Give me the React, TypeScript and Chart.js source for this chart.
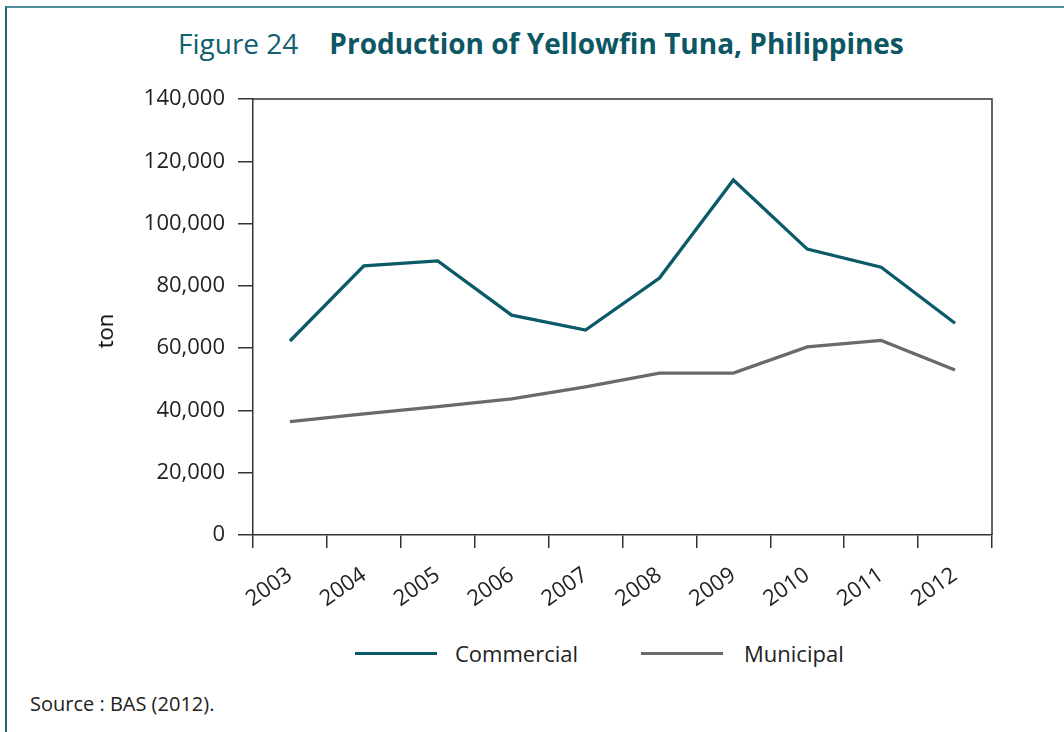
import React, { useEffect, useRef } from "react";
import { Chart, registerables } from "chart.js";

Chart.register(...registerables);

// ---- data ----
const years = ["2003", "2004", "2005", "2006", "2007", "2008", "2009", "2010", "2011", "2012"];
const commercial = [62300, 86400, 88000, 70600, 65800, 82500, 114000, 91800, 86000, 68000];
const municipal = [36400, 38900, 41200, 43700, 47600, 52000, 52000, 60400, 62500, 53000];
const yTicks = [0, 20000, 40000, 60000, 80000, 100000, 120000, 140000];
const seriesNames = ["Commercial", "Municipal"];
const seriesColors = ["#0b5a68", "#6a6a6a"];
const yAxisTitle = "ton";

const FONT = "'Open Sans', 'Noto Sans', sans-serif";
const AXIS = "#333333";

const framePlugin = {
  id: "frameTopRight",
  afterDraw(chart: any) {
    const { ctx, chartArea } = chart;
    const { left, top, right, bottom } = chartArea;
    ctx.save();
    ctx.strokeStyle = AXIS;
    ctx.lineWidth = 1.5;
    ctx.beginPath();
    ctx.moveTo(left, top);
    ctx.lineTo(right, top);
    ctx.lineTo(right, bottom);
    ctx.stroke();
    ctx.restore();
  },
};

export default function App() {
  const canvasRef = useRef<HTMLCanvasElement | null>(null);

  useEffect(() => {
    if (!canvasRef.current) return;
    const chart = new Chart(canvasRef.current, {
      type: "line",
      data: {
        labels: years,
        datasets: [
          {
            label: seriesNames[0],
            data: commercial,
            borderColor: seriesColors[0],
            backgroundColor: seriesColors[0],
            borderWidth: 3.3,
            pointRadius: 0,
            tension: 0,
          },
          {
            label: seriesNames[1],
            data: municipal,
            borderColor: seriesColors[1],
            backgroundColor: seriesColors[1],
            borderWidth: 3.3,
            pointRadius: 0,
            tension: 0,
          },
        ],
      },
      options: {
        animation: false,
        responsive: true,
        maintainAspectRatio: false,
        layout: { padding: { top: 99, left: 90, right: 72, bottom: 0 } },
        plugins: {
          legend: { display: false },
          tooltip: { enabled: false },
          title: { display: false },
        },
        scales: {
          x: {
            offset: true,
            grid: {
              offset: true,
              drawOnChartArea: false,
              tickLength: 13,
              color: AXIS,
              lineWidth: 1.5,
            },
            border: { color: AXIS, width: 1.5 },
            ticks: {
              autoSkip: false,
              minRotation: 35,
              maxRotation: 35,
              padding: 14,
              color: "#222",
              font: { family: FONT, size: 22 },
            },
            afterFit: (s: any) => {
              s.height = 80;
            },
          },
          y: {
            min: 0,
            max: 140000,
            afterBuildTicks: (s: any) => {
              s.ticks = yTicks.map((v) => ({ value: v }));
            },
            grid: {
              drawOnChartArea: false,
              tickLength: 15,
              color: AXIS,
              lineWidth: 1.5,
            },
            border: { color: AXIS, width: 1.5 },
            ticks: {
              padding: 13,
              color: "#222",
              font: { family: FONT, size: 22 },
              callback: (v: any) => Number(v).toLocaleString("en-US"),
            },
            afterFit: (s: any) => {
              s.width = 163;
            },
          },
        },
      },
      plugins: [framePlugin],
    });
    return () => chart.destroy();
  }, []);

  const legendItem = (i: number, gapAfter: number) => (
    <div key={i} style={{ display: "flex", alignItems: "center", marginRight: gapAfter }}>
      <div style={{ width: 82, height: 3, background: seriesColors[i] }} />
      <span style={{ marginLeft: i === 0 ? 18 : 21 }}>{seriesNames[i]}</span>
    </div>
  );

  return (
    <div
      style={{
        position: "absolute",
        left: 0,
        top: 0,
        width: 1064,
        height: 732,
        background: "#fff",
        overflow: "hidden",
        fontFamily: FONT,
      }}
    >
      <div
        style={{
          position: "absolute",
          left: 5,
          top: 6,
          width: 1064,
          height: 732,
          borderTop: "2px solid #4a8c97",
          borderLeft: "2px solid #1d6573",
          boxSizing: "border-box",
        }}
      />
      <div
        style={{
          position: "absolute",
          left: 178,
          top: 25,
          whiteSpace: "nowrap",
          fontSize: 28,
          lineHeight: "36px",
          color: "#11606e",
        }}
      >
        <span style={{ fontWeight: 400 }}>Figure 24</span>
        <span style={{ fontWeight: 700, marginLeft: 31, color: "#0d5664" }}>
          Production of Yellowfin Tuna, Philippines
        </span>
      </div>
      <div style={{ position: "absolute", left: 0, top: 0, width: 1064, height: 615 }}>
        <canvas ref={canvasRef} />
      </div>
      <div
        style={{
          position: "absolute",
          left: 104,
          top: 331,
          width: 0,
          height: 0,
        }}
      >
        <div
          style={{
            position: "absolute",
            left: 0,
            top: 0,
            transform: "translate(-50%, -50%) rotate(-90deg)",
            fontSize: 22,
            fontWeight: 500,
            lineHeight: "28px",
            color: "#000",
            whiteSpace: "nowrap",
          }}
        >
          {yAxisTitle}
        </div>
      </div>
      <div
        style={{
          position: "absolute",
          left: 355,
          top: 639,
          height: 28,
          display: "flex",
          alignItems: "center",
          whiteSpace: "nowrap",
          fontSize: 22,
          color: "#222",
        }}
      >
        {legendItem(0, 63)}
        {legendItem(1, 0)}
      </div>
      <div
        style={{
          position: "absolute",
          left: 30,
          top: 691,
          fontSize: 20,
          lineHeight: "26px",
          color: "#222",
          whiteSpace: "nowrap",
        }}
      >
        Source : BAS (2012).
      </div>
    </div>
  );
}
